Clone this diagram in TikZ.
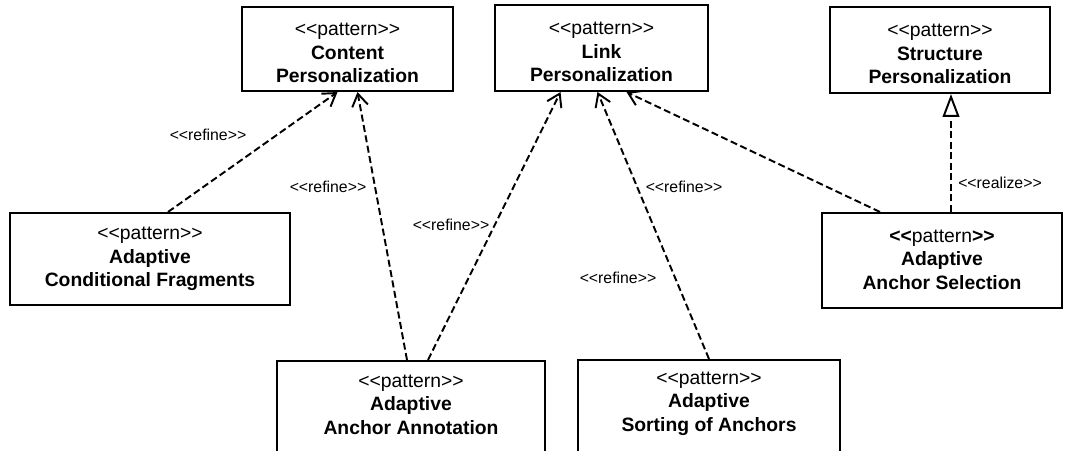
\documentclass[tikz,border=0pt]{standalone}
\usepackage{fontspec}
\setmainfont{Liberation Sans}
\usetikzlibrary{arrows.meta,calc}
\newcommand\uml[1]{<\kern0pt<#1>\kern0pt>}

\begin{document}
\begin{tikzpicture}[x=0.02cm,y=-0.02cm,line join=miter,
		pat/.style={draw,line width=1.2pt,inner sep=0pt},
		pattxt/.style={align=center,inner sep=0pt,font=\fontsize{11pt}{13.3pt}\selectfont},
		dep/.style={line width=1.1pt,dash pattern=on 4pt off 2pt,-{Straight Barb[length=7pt,width=9pt]}},
		real/.style={line width=1.1pt,dash pattern=on 4pt off 2pt,-{Triangle[open,length=13pt,width=9.5pt,fill=white]}},
		stereo/.style={font=\fontsize{9pt}{11pt}\selectfont}]
	\useasboundingbox (0,0) rectangle (1072,450);
	% patterns
	\node[pat,minimum width=4.22cm,minimum height=1.68cm] (cp) at (347.5,49) {};
	\node[pattxt] (cp-t) at ($(cp)+(0,4)$) {\uml{pattern}\\\textbf{Content}\\\textbf{Personalization}};
	\node[pat,minimum width=4.26cm,minimum height=1.72cm] (lp) at (601.5,48) {};
	\node[pattxt] (lp-t) at ($(lp)+(0,4)$) {\uml{pattern}\\\textbf{Link}\\\textbf{Personalization}};
	\node[pat,minimum width=4.4cm,minimum height=1.72cm] (sp) at (940,50) {};
	\node[pattxt] (sp-t) at ($(sp)+(0,4)$) {\uml{pattern}\\\textbf{Structure}\\\textbf{Personalization}};
	\node[pat,minimum width=5.6cm,minimum height=1.84cm] (acf) at (150,259) {};
	\node[pattxt] (acf-t) at (acf) {\uml{pattern}\\\textbf{Adaptive}\\\textbf{Conditional Fragments}};
	\node[pat,minimum width=4.8cm,minimum height=1.9cm] (aas) at (942,260.5) {};
	\node[pattxt] (aas-t) at ($(aas)+(0,-1)$) {\textbf{<\kern0pt<}pattern\textbf{>\kern0pt>}\\\textbf{Adaptive}\\\textbf{Anchor Selection}};
	\node[pat,minimum width=5.36cm,minimum height=1.9cm] (aaa) at (411,408.5) {};
	\node[pattxt] (aaa-t) at ($(aaa)+(0,-4)$) {\uml{pattern}\\\textbf{Adaptive}\\\textbf{Anchor Annotation}};
	\node[pat,minimum width=5.24cm,minimum height=1.9cm] (sa) at (709,407.5) {};
	\node[pattxt] (sa-t) at ($(sa)+(0,-4)$) {\uml{pattern}\\\textbf{Adaptive}\\\textbf{Sorting of Anchors}};
	% dependencies
	\draw[dep] ($(acf.north)+(18,0)$) -- ($(cp.south)+(-10,0)$);
	\draw[dep] ($(aaa.north)+(-4,0)$) -- ($(cp.south)+(10,0)$);
	\draw[dep] ($(aaa.north)+(17,0)$) -- ($(lp.south)+(-41,0)$);
	\draw[dep] (sa.north) -- ($(lp.south)+(-4,0)$);
	\draw[dep] ($(aas.north)+(-62,0)$) -- ($(lp.south)+(25,0)$);
	\draw[real] ($(aas.north)+(9,0)$) -- ($(sp.south)+(11,0)$);
	\foreach \i/\x/\y in {1/208/135,2/328/187,3/451/225,4/684/187,5/618/278}{
		\node[stereo] (refine\i) at (\x,\y) {\uml{refine}};}
	\node[stereo] (realize) at (1000,183) {\uml{realize}};
\end{tikzpicture}
\end{document}
